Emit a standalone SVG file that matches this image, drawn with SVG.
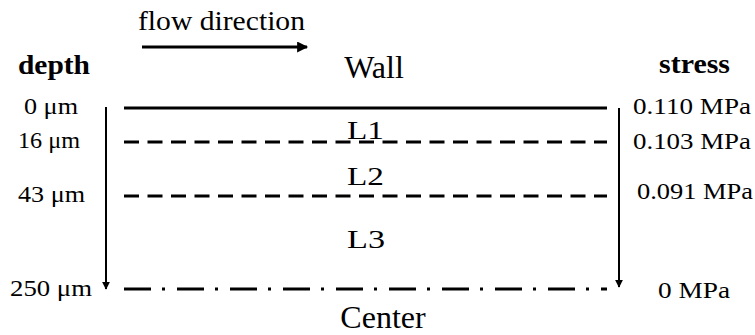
<svg xmlns="http://www.w3.org/2000/svg" width="755" height="335" viewBox="0 0 755 335">
  <style>
    .t { font-family: "Liberation Serif", "Times New Roman", serif; fill: #000; }
    .b { font-weight: bold; }
    .ln { stroke: #000; fill: none; stroke-width: 3; }
    .ax { stroke: #000; fill: none; stroke-width: 2; }
  </style>
  <defs>
    <marker id="head" viewBox="0 0 10 10" refX="9" refY="5" markerWidth="12" markerHeight="11" markerUnits="userSpaceOnUse" orient="auto">
      <path d="M0,0 L10,5 L0,10 Z" fill="#000"/>
    </marker>
    <marker id="headSmall" viewBox="0 0 10 10" refX="9" refY="5" markerWidth="8" markerHeight="8" markerUnits="userSpaceOnUse" orient="auto">
      <path d="M0,0 L10,5 L0,10 Z" fill="#000"/>
    </marker>
  </defs>

  <!-- header -->
  <g id="flow">
    <text class="t" x="138" y="30" font-size="27" textLength="167" lengthAdjust="spacingAndGlyphs">flow direction</text>
  </g>
  <g id="depth-title"><text class="t b" x="18" y="74" font-size="27" textLength="72" lengthAdjust="spacingAndGlyphs">depth</text></g>
  <g id="stress-title"><text class="t b" x="659" y="73" font-size="27" textLength="71" lengthAdjust="spacingAndGlyphs">stress</text></g>
  <g id="wall"><text class="t" x="374" y="78" font-size="32" text-anchor="middle">Wall</text></g>
  <g id="center"><text class="t" x="383" y="328" font-size="32" text-anchor="middle">Center</text></g>

  <!-- layer boundaries and axes -->
  <g id="connectors">
    <line class="ln" x1="142" y1="47" x2="307" y2="47" marker-end="url(#head)"/>
    <line class="ln" x1="124" y1="108" x2="607" y2="108"/>
    <line class="ln" x1="124" y1="142" x2="607" y2="142" stroke-dasharray="15 8.5"/>
    <line class="ln" x1="124" y1="196" x2="607" y2="196" stroke-dasharray="15 8.5"/>
    <line class="ln" x1="124" y1="289" x2="607" y2="289" stroke-dasharray="27 11 3 12"/>
    <line class="ax" x1="106" y1="107" x2="106" y2="289" marker-end="url(#headSmall)"/>
    <line class="ax" x1="619" y1="108" x2="619" y2="287" marker-end="url(#headSmall)"/>
  </g>

  <!-- layers -->
  <g id="L1"><text class="t" x="347" y="139" font-size="26" textLength="37" lengthAdjust="spacingAndGlyphs">L1</text></g>
  <g id="L2"><text class="t" x="347" y="185" font-size="26" textLength="37" lengthAdjust="spacingAndGlyphs">L2</text></g>
  <g id="L3"><text class="t" x="347" y="248" font-size="26" textLength="38" lengthAdjust="spacingAndGlyphs">L3</text></g>

  <!-- depth scale -->
  <g id="d0"><text class="t" x="24" y="114" font-size="23" textLength="54" lengthAdjust="spacingAndGlyphs">0 μm</text></g>
  <g id="d16"><text class="t" x="18" y="148" font-size="23" textLength="62" lengthAdjust="spacingAndGlyphs">16 μm</text></g>
  <g id="d43"><text class="t" x="18" y="202" font-size="23" textLength="67" lengthAdjust="spacingAndGlyphs">43 μm</text></g>
  <g id="d250"><text class="t" x="10" y="296" font-size="23" textLength="82" lengthAdjust="spacingAndGlyphs">250 μm</text></g>

  <!-- stress scale -->
  <g id="s110"><text class="t" x="633" y="114" font-size="23" textLength="118" lengthAdjust="spacingAndGlyphs">0.110 MPa</text></g>
  <g id="s103"><text class="t" x="633" y="149" font-size="23" textLength="118" lengthAdjust="spacingAndGlyphs">0.103 MPa</text></g>
  <g id="s091"><text class="t" x="637" y="199" font-size="23" textLength="116" lengthAdjust="spacingAndGlyphs">0.091 MPa</text></g>
  <g id="s0"><text class="t" x="658" y="298" font-size="23" textLength="72" lengthAdjust="spacingAndGlyphs">0 MPa</text></g>
</svg>
